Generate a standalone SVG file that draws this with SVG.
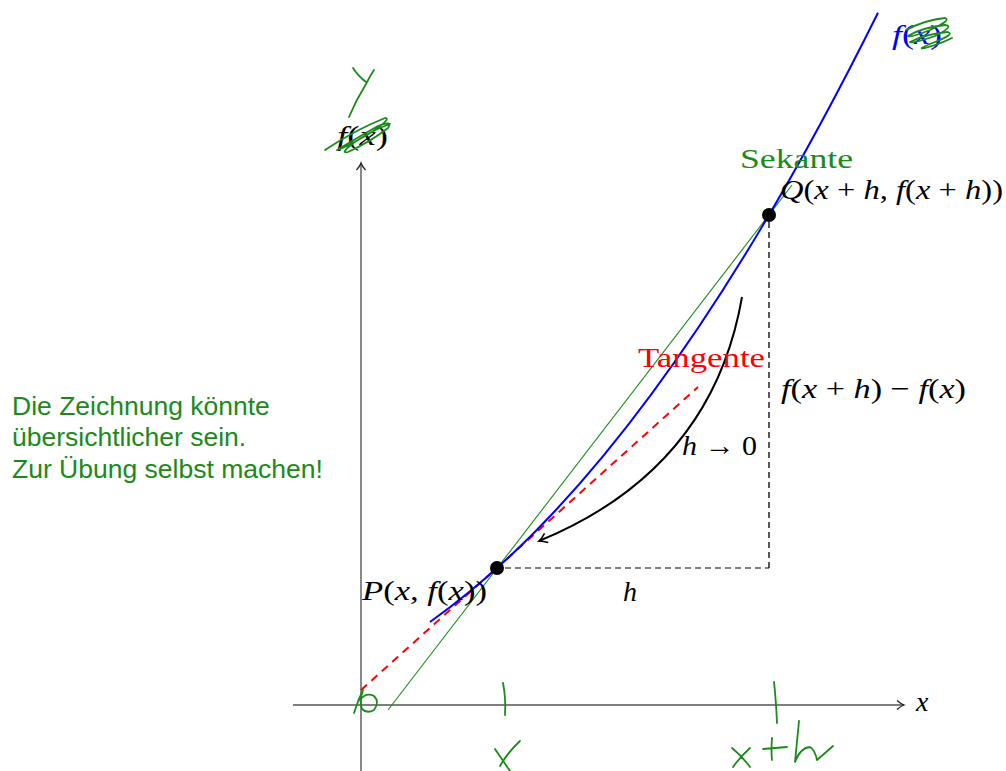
<svg xmlns="http://www.w3.org/2000/svg" width="1006" height="771" viewBox="0 0 1006 771">
<style>
.axis{stroke:#555;stroke-width:1.4;fill:none}
.m{font-family:"Liberation Serif",serif;font-size:28px;fill:#000}
.i{font-style:italic}
.hand{stroke:#1a8a1a;stroke-width:1.8;fill:none;stroke-linecap:round;stroke-linejoin:round}
.note{font-family:"Liberation Sans",Arial,sans-serif;font-size:26.5px;fill:#1a8a1a}
</style>
<defs>
<marker id="arr" markerWidth="12" markerHeight="12" refX="10" refY="6" orient="auto" markerUnits="userSpaceOnUse">
<path d="M3,1.5 Q7,5 10,6 Q7,7 3,10.5" fill="none" stroke="#222" stroke-width="1.3"/>
</marker>
<marker id="arrB" markerWidth="14" markerHeight="14" refX="11" refY="7" orient="auto-start-reverse" markerUnits="userSpaceOnUse">
<path d="M3,2 Q8,6 11,7 Q8,8 3,12" fill="none" stroke="#000" stroke-width="1.6"/>
</marker>
</defs>
<rect width="1006" height="771" fill="#fff"/>
<g id="axes">
<line class="axis" x1="361" y1="771" x2="361" y2="163" marker-end="url(#arr)"/>
<line class="axis" x1="293" y1="705" x2="904" y2="705" marker-end="url(#arr)"/>
</g>
<g id="connectors">
<line x1="505" y1="568" x2="769" y2="568" stroke="#555" stroke-width="1.3" stroke-dasharray="6,4"/>
<line x1="769" y1="222" x2="769" y2="568" stroke="#000" stroke-width="1.3" stroke-dasharray="6,4"/>
<line id="secant" x1="388" y1="710" x2="792" y2="185" stroke="#1a8a1a" stroke-width="1.1"/>
<line id="tangent" x1="361" y1="690" x2="698" y2="387" stroke="#ff0000" stroke-width="2" stroke-dasharray="8,6"/>
<path id="curve" d="M430,622 Q654,464 878,12.7" stroke="#0000ff" stroke-width="2" fill="none"/>
<path id="limit-arrow" d="M742,297 Q712,470 539,541" stroke="#000" stroke-width="2" fill="none" marker-end="url(#arrB)"/>
</g>
<g id="point-P"><circle cx="497" cy="568" r="7" fill="#000"/>
<text class="m" x="362" y="600" textLength="125" lengthAdjust="spacingAndGlyphs"><tspan class="i">P</tspan>(<tspan class="i">x</tspan>, <tspan class="i">f</tspan>(<tspan class="i">x</tspan>))</text></g>
<g id="point-Q"><circle cx="769" cy="215" r="7" fill="#000"/>
<text class="m" x="780" y="199" textLength="223" lengthAdjust="spacingAndGlyphs"><tspan class="i">Q</tspan>(<tspan class="i">x</tspan> + <tspan class="i">h</tspan>, <tspan class="i">f</tspan>(<tspan class="i">x</tspan> + <tspan class="i">h</tspan>))</text></g>
<g id="labels">
<text class="m" x="337" y="145" textLength="51" lengthAdjust="spacingAndGlyphs"><tspan class="i">f</tspan>(<tspan class="i">x</tspan>)</text>
<text class="m" x="892" y="44" textLength="50" lengthAdjust="spacingAndGlyphs" style="fill:#0000ff"><tspan class="i">f</tspan>(<tspan class="i">x</tspan>)</text>
<text class="m" x="740" y="168" textLength="113" lengthAdjust="spacingAndGlyphs" style="fill:#1a8a1a">Sekante</text>
<text class="m" x="638" y="367" textLength="127" lengthAdjust="spacingAndGlyphs" style="fill:#ff0000">Tangente</text>
<text class="m" x="781" y="398" textLength="185" lengthAdjust="spacingAndGlyphs"><tspan class="i">f</tspan>(<tspan class="i">x</tspan> + <tspan class="i">h</tspan>) − <tspan class="i">f</tspan>(<tspan class="i">x</tspan>)</text>
<text class="m" x="682" y="455" textLength="75" lengthAdjust="spacingAndGlyphs"><tspan class="i">h</tspan> → 0</text>
<text class="m i" x="623" y="601">h</text>
<text class="m i" x="916" y="711">x</text>
</g>
<g id="note">
<text class="note" x="12" y="415">Die Zeichnung könnte</text>
<text class="note" x="12" y="446">übersichtlicher sein.</text>
<text class="note" x="12" y="478">Zur Übung selbst machen!</text>
</g>
<g id="handwriting">
<path class="hand" d="M353,68 Q358,76 366,82 M374,70 Q370,76 366,84 Q356,100 349,117"/>
<path class="hand" d="M325,150 Q355,130 385,118 Q392,118 372,132 Q345,148 337,150 Q350,142 378,126 Q393,120 388,128 Q370,142 348,152 Q340,154 352,144 Q372,130 390,124"/>
<path class="hand" d="M906,30 Q925,20 945,18 Q952,20 930,30 Q910,38 908,36 Q920,28 945,25 Q955,26 935,36 Q912,44 910,42 Q925,34 948,32 Q955,34 935,42 Q915,50 925,48 Q940,44 952,38"/>
<path class="hand" d="M354,713 Q358,700 363,690 Q359,702 362,709 Q367,714 374,710 Q380,702 374,696 Q366,692 360,700"/>
<path class="hand" d="M503,683 Q506,698 505,715"/>
<path class="hand" d="M495,749 L510,771 M520,741 Q508,752 500,766"/>
<path class="hand" d="M774,682 Q776,700 777,723"/>
<path class="hand" d="M732,748 Q742,756 750,767 M750,748 Q740,757 733,767 M772,738 Q771,750 772,760 M763,749 Q775,748 787,747 M799,721 Q797,742 795,762 Q800,748 810,747 Q815,750 817,760 Q824,754 833,746"/>
</g>
</svg>
